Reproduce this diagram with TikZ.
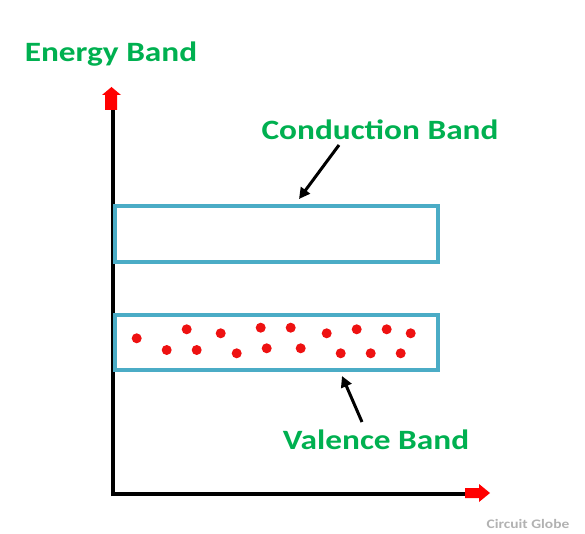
\documentclass[tikz,border=0pt]{standalone}
\usepackage{fontspec}
\usepackage{graphicx}
\setmainfont{Carlito}
\usetikzlibrary{arrows.meta}
\definecolor{bandgreen}{HTML}{00B050}
\definecolor{bandteal}{HTML}{4BACC6}
\definecolor{dotred}{HTML}{EE1111}
\newcommand{\widetxt}[1]{\scalebox{1.19}[1]{#1}}
\tikzset{
  band/.style={draw=bandteal, line width=4pt},
  lbl/.style={text=bandgreen, font=\bfseries\fontsize{28}{30}\selectfont, inner sep=0pt},
  electron/.style={fill=dotred, draw=none},
  pointer/.style={line width=3pt, -{Triangle[length=11pt,width=11pt]}},
  axisline/.style={line width=4pt, black},
}
\begin{document}
\begin{tikzpicture}[x=1pt,y=-1pt]
\useasboundingbox (0,0) rectangle (585,534);
% axes
\coordinate (origin) at (113,494);
\coordinate (ytop) at (113,108);
\coordinate (xend) at (467,494);
\draw[axisline] (113,496) -- (ytop);
\draw[axisline] (111,494) -- (xend);
% red block arrows
\fill[red] (105,110) -- (105,95) -- (102,95) -- (111.5,87) -- (121,95) -- (117,95) -- (117,110) -- cycle;
\fill[red] (465,488) -- (479,488) -- (479,484) -- (490,493) -- (479,502) -- (479,498) -- (465,498) -- cycle;
% bands
\draw[band] (115,206) rectangle (438,262);
\draw[band] (115,315) rectangle (438,370);
% electrons
\foreach \x/\y in {136.7/338.3,186.7/329.3,166.7/350,196.7/350,220.7/333.3,236.7/353.3,260.7/327.7,266.7/348.3,290.7/327.7,300.7/348.3,326.7/333.3,340.7/353.3,356.7/329.3,370.7/353.3,386.7/329.3,400.7/353.3,410.7/333.3}
  \fill[electron] (\x,\y) circle (5);
% labels
\node[lbl] (energy) at (111,54) {\widetxt{Energy Band}};
\node[lbl] (cond) at (380,130) {\widetxt{Conduction Band}};
\node[lbl] (val) at (376,440) {\widetxt{Valence Band}};
\node[text=black!30, font=\bfseries\fontsize{13}{15}\selectfont, inner sep=0pt] (credit) at (528,524) {\widetxt{Circuit Globe}};
% pointers
\coordinate (cbtip) at (299,199);
\coordinate (vbtip) at (342,376);
\draw[pointer] (339,145) -- (cbtip);
\draw[pointer] (362,422) -- (vbtip);
\end{tikzpicture}
\end{document}
